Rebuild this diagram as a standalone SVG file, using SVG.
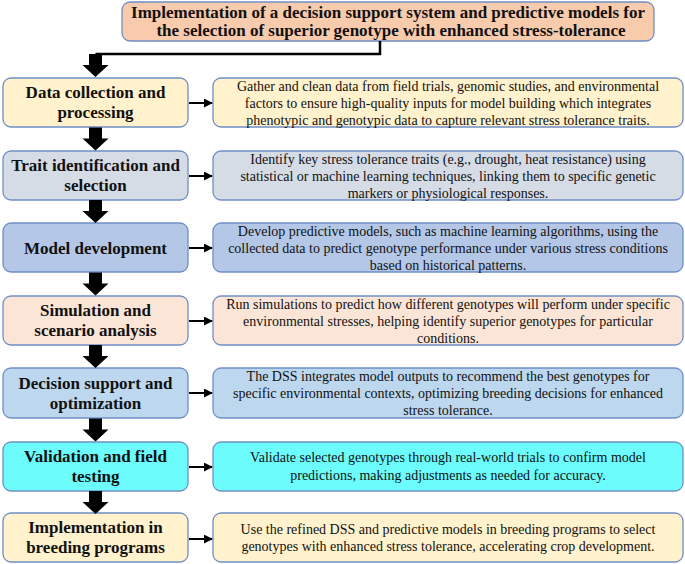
<svg xmlns="http://www.w3.org/2000/svg" xmlns:xlink="http://www.w3.org/1999/xlink" width="685" height="564" viewBox="0 0 685 564">
<style>
  .box { stroke: #6f8fc6; stroke-width: 1.3; }
  text { font-family: "Liberation Serif", "Tinos", "DejaVu Serif", "Noto Serif", "Times New Roman", serif; fill: #111; text-anchor: middle; }
  .ttl { font-weight: bold; font-size: 17px; }
  .lbl { font-weight: bold; font-size: 17px; }
  .dsc { font-size: 14px; }
  .thin { stroke: #000; stroke-width: 2; fill: none; }
  .c-yel { fill: #FFF2CC; }
  .c-gry { fill: #D6DCE5; }
  .c-blu { fill: #B4C7E7; }
  .c-pch { fill: #FBE5D6; }
  .c-lbl { fill: #BDD7EE; }
  .c-cyn { fill: #6CFCFC; }
  .c-ttl { fill: #F8CBAD; }
</style>
<defs>
  <path id="ta" d="M-6.5,0 H6.5 V11 H13 L0,23 L-13,11 H-6.5 Z" fill="#000"/>
  <marker id="ah" viewBox="0 0 10 10" refX="9" refY="5" markerWidth="4.5" markerHeight="4.5" orient="auto" markerUnits="strokeWidth">
    <path d="M0,0 L10,5 L0,10 Z" fill="#000"/>
  </marker>
</defs>

<g id="title">
  <rect class="box c-ttl" x="122" y="2" width="532" height="39" rx="8"/>
  <text class="ttl" x="388" y="18">Implementation of a decision support system and predictive models for</text>
  <text class="ttl" x="391" y="35.5">the selection of superior genotype with enhanced stress-tolerance</text>
</g>

<g id="step1">
  <rect class="box c-yel" x="3" y="78" width="185" height="49" rx="8"/>
  <text class="lbl" x="95.5" y="98">Data collection and</text>
  <text class="lbl" x="95.5" y="118">processing</text>
</g>
<g id="desc1">
  <rect class="box c-yel" x="213" y="78" width="470" height="49" rx="8"/>
  <text class="dsc" x="448" y="90.5">Gather and clean data from field trials, genomic studies, and environmental</text>
  <text class="dsc" x="448" y="107.5">factors to ensure high-quality inputs for model building which integrates</text>
  <text class="dsc" x="448" y="124.5">phenotypic and genotypic data to capture relevant stress tolerance traits.</text>
</g>

<g id="step2">
  <rect class="box c-gry" x="3" y="151" width="185" height="49" rx="8"/>
  <text class="lbl" x="95.5" y="171">Trait identification and</text>
  <text class="lbl" x="95.5" y="191">selection</text>
</g>
<g id="desc2">
  <rect class="box c-gry" x="213" y="151" width="470" height="49" rx="8"/>
  <text class="dsc" x="448" y="163.5">Identify key stress tolerance traits (e.g., drought, heat resistance) using</text>
  <text class="dsc" x="448" y="180.5">statistical or machine learning techniques, linking them to specific genetic</text>
  <text class="dsc" x="448" y="197.5">markers or physiological responses.</text>
</g>

<g id="step3">
  <rect class="box c-blu" x="3" y="223" width="185" height="49" rx="8"/>
  <text class="lbl" x="95.5" y="253.5">Model development</text>
</g>
<g id="desc3">
  <rect class="box c-blu" x="213" y="223" width="470" height="49" rx="8"/>
  <text class="dsc" x="448" y="235.5">Develop predictive models, such as machine learning algorithms, using the</text>
  <text class="dsc" x="448" y="252.5">collected data to predict genotype performance under various stress conditions</text>
  <text class="dsc" x="448" y="269.5">based on historical patterns.</text>
</g>

<g id="step4">
  <rect class="box c-pch" x="3" y="296" width="185" height="49" rx="8"/>
  <text class="lbl" x="95.5" y="316">Simulation and</text>
  <text class="lbl" x="95.5" y="336">scenario analysis</text>
</g>
<g id="desc4">
  <rect class="box c-pch" x="213" y="296" width="470" height="49" rx="8"/>
  <text class="dsc" x="448" y="308.5">Run simulations to predict how different genotypes will perform under specific</text>
  <text class="dsc" x="448" y="325.5">environmental stresses, helping identify superior genotypes for particular</text>
  <text class="dsc" x="448" y="342.5">conditions.</text>
</g>

<g id="step5">
  <rect class="box c-lbl" x="3" y="368" width="185" height="50" rx="8"/>
  <text class="lbl" x="95.5" y="388.5">Decision support and</text>
  <text class="lbl" x="95.5" y="408.5">optimization</text>
</g>
<g id="desc5">
  <rect class="box c-lbl" x="213" y="368" width="470" height="50" rx="8"/>
  <text class="dsc" x="448" y="381">The DSS integrates model outputs to recommend the best genotypes for</text>
  <text class="dsc" x="448" y="398">specific environmental contexts, optimizing breeding decisions for enhanced</text>
  <text class="dsc" x="448" y="415">stress tolerance.</text>
</g>

<g id="step6">
  <rect class="box c-cyn" x="3" y="442" width="185" height="49" rx="8"/>
  <text class="lbl" x="95.5" y="462">Validation and field</text>
  <text class="lbl" x="95.5" y="482">testing</text>
</g>
<g id="desc6">
  <rect class="box c-cyn" x="213" y="442" width="470" height="49" rx="8"/>
  <text class="dsc" x="448" y="462">Validate selected genotypes through real-world trials to confirm model</text>
  <text class="dsc" x="448" y="480">predictions, making adjustments as needed for accuracy.</text>
</g>

<g id="step7">
  <rect class="box c-yel" x="3" y="513" width="185" height="49" rx="8"/>
  <text class="lbl" x="95.5" y="533">Implementation in</text>
  <text class="lbl" x="95.5" y="553">breeding programs</text>
</g>
<g id="desc7">
  <rect class="box c-yel" x="213" y="513" width="470" height="49" rx="8"/>
  <text class="dsc" x="448" y="534">Use the refined DSS and predictive models in breeding programs to select</text>
  <text class="dsc" x="448" y="551">genotypes with enhanced stress tolerance, accelerating crop development.</text>
</g>

<g id="connectors">
  <path d="M380,41 V54 H95.5" stroke="#000" stroke-width="2.5" fill="none"/>
  <use xlink:href="#ta" x="95.5" y="54"/>
  <use xlink:href="#ta" x="95.5" y="127.5"/>
  <use xlink:href="#ta" x="95.5" y="200"/>
  <use xlink:href="#ta" x="95.5" y="272.5"/>
  <use xlink:href="#ta" x="95.5" y="345"/>
  <use xlink:href="#ta" x="95.5" y="418.5"/>
  <use xlink:href="#ta" x="95.5" y="491"/>
  <path class="thin" d="M189,103 H212" marker-end="url(#ah)"/>
  <path class="thin" d="M189,176 H212" marker-end="url(#ah)"/>
  <path class="thin" d="M189,248 H212" marker-end="url(#ah)"/>
  <path class="thin" d="M189,321 H212" marker-end="url(#ah)"/>
  <path class="thin" d="M189,393 H212" marker-end="url(#ah)"/>
  <path class="thin" d="M189,467 H212" marker-end="url(#ah)"/>
  <path class="thin" d="M189,539 H212" marker-end="url(#ah)"/>
</g>
</svg>
